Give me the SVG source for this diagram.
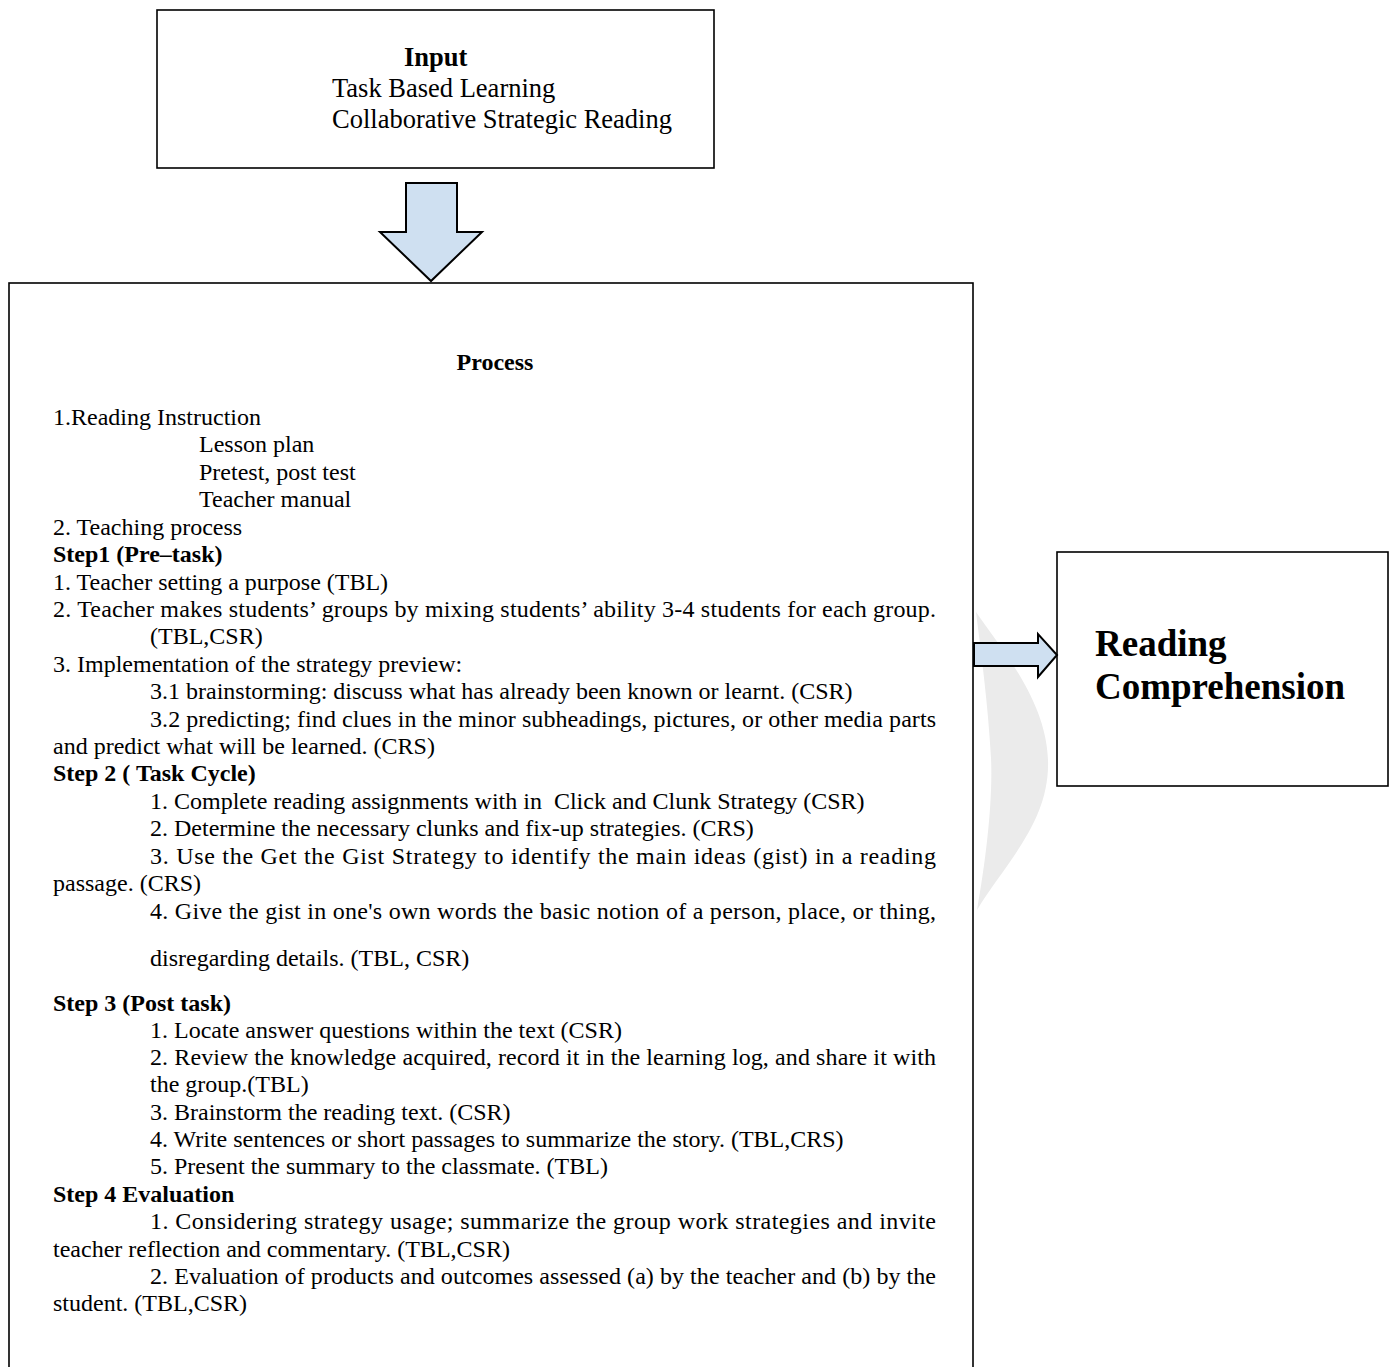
<svg xmlns="http://www.w3.org/2000/svg" width="1392" height="1367" viewBox="0 0 1392 1367">
<style>
  text { font-family: "Liberation Serif", "Times New Roman", serif; fill: #000; }
  .b { font-size: 24px; }
  .h { font-size: 24px; font-weight: bold; }
  .in { font-size: 26.5px; }
  .rc { font-size: 37px; font-weight: bold; }
  .box { fill: none; stroke: #000; stroke-width: 1.6; }
  .arrow { fill: #cfe0f1; stroke: #000; stroke-width: 2; stroke-linejoin: miter; }
</style>
<rect width="1392" height="1367" fill="#fff"/>
<path id="watermark" d="M976,612 C1002,650 1046,700 1048,760 C1050,822 1006,862 977,910 C986,860 993,800 991,758 C988,705 982,660 976,612 Z" fill="#ebebeb"/>

<g id="input">
  <rect class="box" x="157" y="10" width="557" height="158"/>
  <text class="in" x="404" y="66" font-weight="bold">Input</text>
  <text class="in" x="332" y="97">Task Based Learning</text>
  <text class="in" x="332" y="128">Collaborative Strategic Reading</text>
</g>

<g id="process">
  <rect class="box" x="9" y="283" width="964" height="1110"/>
  <text class="h" x="495" y="370" text-anchor="middle">Process</text>
  <text class="b" x="53" y="425">1.Reading Instruction</text>
  <text class="b" x="199" y="452">Lesson plan</text>
  <text class="b" x="199" y="480">Pretest, post test</text>
  <text class="b" x="199" y="507">Teacher manual</text>
  <text class="b" x="53" y="535">2. Teaching process</text>
  <text class="h" x="53" y="562">Step1 (Pre–task)</text>
  <text class="b" x="53" y="590">1. Teacher setting a purpose (TBL)</text>
  <text class="b" x="53" y="617" textLength="883" lengthAdjust="spacing">2. Teacher makes students’ groups by mixing students’ ability 3-4 students for each group.</text>
  <text class="b" x="150" y="644">(TBL,CSR)</text>
  <text class="b" x="53" y="672">3. Implementation of the strategy preview:</text>
  <text class="b" x="150" y="699">3.1 brainstorming: discuss what has already been known or learnt. (CSR)</text>
  <text class="b" x="150" y="727" textLength="786" lengthAdjust="spacing">3.2 predicting; find clues in the minor subheadings, pictures, or other media parts</text>
  <text class="b" x="53" y="754">and predict what will be learned. (CRS)</text>
  <text class="h" x="53" y="781">Step 2 ( Task Cycle)</text>
  <text class="b" x="150" y="809" xml:space="preserve">1. Complete reading assignments with in  Click and Clunk Strategy (CSR)</text>
  <text class="b" x="150" y="836">2. Determine the necessary clunks and fix-up strategies. (CRS)</text>
  <text class="b" x="150" y="864" textLength="786" lengthAdjust="spacing">3. Use the Get the Gist Strategy to identify the main ideas (gist) in a reading</text>
  <text class="b" x="53" y="891">passage. (CRS)</text>
  <text class="b" x="150" y="919" textLength="786" lengthAdjust="spacing">4. Give the gist in one's own words the basic notion of a person, place, or thing,</text>
  <text class="b" x="150" y="966">disregarding details. (TBL, CSR)</text>
  <text class="h" x="53" y="1011">Step 3 (Post task)</text>
  <text class="b" x="150" y="1038">1. Locate answer questions within the text (CSR)</text>
  <text class="b" x="150" y="1065" textLength="786" lengthAdjust="spacing">2. Review the knowledge acquired, record it in the learning log, and share it with</text>
  <text class="b" x="150" y="1092">the group.(TBL)</text>
  <text class="b" x="150" y="1120">3. Brainstorm the reading text. (CSR)</text>
  <text class="b" x="150" y="1147">4. Write sentences or short passages to summarize the story. (TBL,CRS)</text>
  <text class="b" x="150" y="1174">5. Present the summary to the classmate. (TBL)</text>
  <text class="h" x="53" y="1202">Step 4 Evaluation</text>
  <text class="b" x="150" y="1229" textLength="786" lengthAdjust="spacing">1. Considering strategy usage; summarize the group work strategies and invite</text>
  <text class="b" x="53" y="1257">teacher reflection and commentary. (TBL,CSR)</text>
  <text class="b" x="150" y="1284" textLength="786" lengthAdjust="spacing">2. Evaluation of products and outcomes assessed (a) by the teacher and (b) by the</text>
  <text class="b" x="53" y="1311">student. (TBL,CSR)</text>
</g>

<g id="output">
  <rect class="box" x="1057" y="552" width="331" height="234"/>
  <text class="rc" x="1095" y="656">Reading</text>
  <text class="rc" x="1095" y="699">Comprehension</text>
</g>

<g id="connectors">
  <polygon class="arrow" points="406,183 457,183 457,232 482,232 431,281 380,232 406,232"/>
  <polygon class="arrow" points="974,643 1038,643 1038,634 1057,655 1038,677 1038,666 974,666"/>
</g>
</svg>
